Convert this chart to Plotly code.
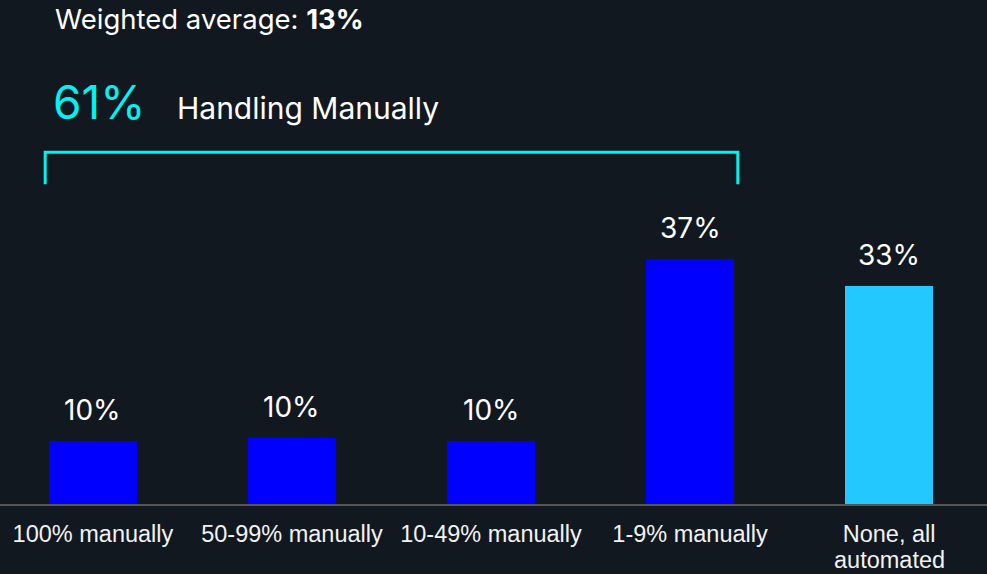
import plotly.graph_objects as go

categories = ["100% manually", "50-99% manually", "10-49% manually", "1-9% manually", "None, all<br>automated"]
values = [9.6, 10.1, 9.6, 37.4, 33.4]
bar_colors = ["#0000FF", "#0000FF", "#0000FF", "#0000FF", "#22C8FF"]
value_labels = [f"{round(v)}%" for v in values]

BG = "#111820"
CYAN = "#00F2F2"
TITLE_FONT = "Inter"
TICK_FONT = dict(family="Liberation Sans", size=23.5, color="#F2F2F2")

# first line of each category goes on the axis; extra lines are set tighter below
first_lines = [c.split("<br>")[0] for c in categories]
extra_lines = [c.split("<br>")[1:] for c in categories]

fig = go.Figure()
fig.add_trace(go.Bar(
    x=list(range(len(categories))),
    y=values,
    marker=dict(color=bar_colors, line=dict(width=0)),
    width=0.445,
    hoverinfo="skip",
))

for i, (v, lab) in enumerate(zip(values, value_labels)):
    fig.add_annotation(x=i, y=v, text=lab, showarrow=False, xref="x", yref="y",
                       yanchor="bottom", yshift=12,
                       font=dict(family=TITLE_FONT, size=28, color="white"))

# bracket over the manual categories
y_br_top = 53.8
y_br_bot = 48.9
fig.add_shape(type="path", xref="x", yref="y",
              path=f"M -0.24 {y_br_bot} L -0.24 {y_br_top} L 3.24 {y_br_top} L 3.24 {y_br_bot}",
              line=dict(color=CYAN, width=3))

fig.update_layout(
    width=987, height=574,
    paper_bgcolor=BG, plot_bgcolor=BG,
    margin=dict(l=0, r=0, t=0, b=70),
    showlegend=False,
    bargap=0,
    xaxis=dict(
        range=[-0.467, 4.492],
        tickmode="array",
        tickvals=list(range(len(categories))),
        ticktext=first_lines,
        tickfont=TICK_FONT,
        ticks="", ticklabelstandoff=8, automargin=False,
        showline=True, linecolor="#555555", linewidth=2,
        showgrid=False, zeroline=False, fixedrange=True,
    ),
    yaxis=dict(range=[0, 77.06], visible=False, showgrid=False, zeroline=False,
               fixedrange=True, automargin=False),
)

PH = 504
def py(pix):
    return (PH - pix) / PH

for i, extra in enumerate(extra_lines):
    for k, line in enumerate(extra):
        fig.add_annotation(x=i, y=py(560 + 26 * k), xref="x", yref="paper", yanchor="middle",
                           text=line, showarrow=False, font=TICK_FONT)

fig.add_annotation(x=53 / 987, y=py(19), xref="paper", yref="paper", xanchor="left", yanchor="middle",
                   text="Weighted average: <b>13%</b>", showarrow=False,
                   font=dict(family=TITLE_FONT, size=27.5, color="white"))
fig.add_annotation(x=51 / 987, y=py(102), xref="paper", yref="paper", xanchor="left", yanchor="middle",
                   text="61%", showarrow=False,
                   font=dict(family=TITLE_FONT, size=46, color=CYAN))
fig.add_annotation(x=175 / 987, y=py(108), xref="paper", yref="paper", xanchor="left", yanchor="middle",
                   text="Handling Manually", showarrow=False,
                   font=dict(family=TITLE_FONT, size=30, color="white"))

fig.write_html("out.html", config={"displayModeBar": False},
               post_script="document.body.style.margin='0px';document.body.style.background='%s';" % BG)
